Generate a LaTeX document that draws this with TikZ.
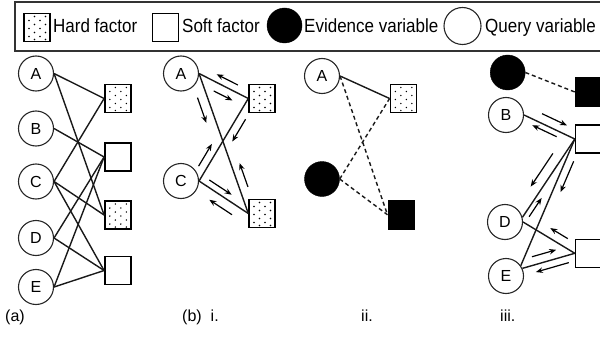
\documentclass[tikz,border=0pt]{standalone}
\usepackage{fontspec}
\setmainfont{Liberation Sans}
\usetikzlibrary{calc,arrows.meta}

% message arrow drawn beside the edge from #1 to #2,
% from fraction #3 to fraction #4 of the edge, shifted sideways by #5 pt
\newcommand\passmsg[5]{%
  \draw[msgflow] ($(#1)!#3!(#2)!#5pt!90:(#2)$) -- ($(#1)!#4!(#2)!#5pt!90:(#2)$);}
% legend captions are set slightly tall
\newcommand\tallcap[1]{\scalebox{1}[1.12]{#1}}

\tikzset{
  qvar/.style={circle, draw=black!85, line width=1.1pt, minimum size=35pt,
    inner sep=0pt, font=\fontsize{16}{18}\selectfont},
  evar/.style={circle, draw=black, fill=black, minimum size=35pt, inner sep=0pt},
  factor/.style={rectangle, draw=black, line width=1.4pt, minimum width=26pt,
    minimum height=28pt, inner sep=0pt},
  soft/.style={factor, fill=white},
  obs/.style={factor, fill=black},
  hard/.style={factor, path picture={
      \foreach \px/\py in {-8/-9,-8/-1,-8/7,-2.5/-12,-2.5/-5,-2.5/3,-2.5/11,
                           3/-9,3/-1,3/7,8.5/-12,8.5/-5,8.5/3,8.5/11}
        \fill[black] ($(path picture bounding box.center)+(\px pt,\py pt)$) circle (0.8pt);}},
  link/.style={line width=1.4pt, black!90},
  dlink/.style={link, dash pattern=on 4pt off 3pt},
  msgflow/.style={line width=1.2pt, black, -{Stealth[length=7pt,width=5.5pt]}},
  lbl/.style={anchor=base west, inner sep=0pt, font=\fontsize{16}{18}\selectfont},
  legtext/.style={anchor=base west, inner sep=0pt, font=\fontsize{17}{20}\selectfont},
  legframe/.style={draw=black!80, line width=1.4pt},
}

\begin{document}
\begin{tikzpicture}[x=1pt, y=-1pt]
\useasboundingbox (0,0) rectangle (600,337);

% legend
\draw[legframe] (15,2) rectangle (615,51);
\node[hard] (lh) at (37,27.5) {};
\node[legtext] (lht) at (53,33) {\tallcap{Hard factor}};
\node[soft] (ls) at (165.5,27.5) {};
\node[legtext] (lst) at (182,33) {\tallcap{Soft factor}};
\node[evar] (le) at (284.5,25.5) {};
\node[legtext] (let) at (304,33) {\tallcap{Evidence variable}};
\node[qvar, minimum size=37pt] (lq) at (462.5,26) {};
\node[legtext] (lqt) at (485,33) {\tallcap{Query variable}};

% (a) full factor graph
\node[qvar] (aA) at (36,73.5) {A};
\node[qvar] (aB) at (36,128.5) {B};
\node[qvar] (aC) at (36,181.5) {C};
\node[qvar] (aD) at (36,238) {D};
\node[qvar] (aE) at (36,287) {E};
\node[hard] (ah1) at (117.8,98.5) {};
\node[soft] (as1) at (117.8,157) {};
\node[hard] (ah2) at (117.8,215) {};
\node[soft] (as2) at (117.8,270.5) {};
\draw[link] (aA.east) -- (ah1.west);
\draw[link] (aA.east) -- (ah2.west);
\draw[link] (aB.east) -- (as1.west);
\draw[link] (aC.east) -- (ah1.west);
\draw[link] (aC.east) -- (ah2.west);
\draw[link] (aC.east) -- (as2.west);
\draw[link] (aD.east) -- (as1.west);
\draw[link] (aD.east) -- (as2.west);
\draw[link] (aE.east) -- (as1.west);
\draw[link] (aE.east) -- (as2.west);
\node[lbl] (la) at (5,321.5) {(a)};

% (b) i. hard factors only
\node[qvar] (bA) at (181,73.5) {A};
\node[qvar] (bC) at (181,181) {C};
\node[hard] (bh1) at (262,98.5) {};
\node[hard] (bh2) at (262,213.5) {};
\draw[link] (bA.east) -- (bh1.west);
\draw[link] (bA.east) -- (bh2.west);
\draw[link] (bC.east) -- (bh1.west);
\draw[link] (bC.east) -- (bh2.west);
\passmsg{bA.east}{bh1.west}{0.72}{0.29}{7.3}
\passmsg{bA.east}{bh1.west}{0.38}{0.76}{-8.9}
\passmsg{bA.east}{bh2.west}{0.15}{0.33}{-9.5}
\passmsg{bA.east}{bh2.west}{0.83}{0.66}{8.5}
\passmsg{bC.east}{bh1.west}{0.13}{0.40}{8}
\passmsg{bC.east}{bh1.west}{0.80}{0.53}{-8.3}
\passmsg{bC.east}{bh2.west}{0.135}{0.59}{6.5}
\passmsg{bC.east}{bh2.west}{0.78}{0.32}{-10}
\node[lbl] (lb) at (182,321.5) {(b)\hspace{9pt}i.};

% ii. evidence
\node[qvar] (cA) at (322,76) {A};
\node[evar] (cEv) at (322,179) {};
\node[hard] (ch) at (403.3,98.5) {};
\node[obs] (co) at (401.2,214.8) {};
\draw[link] (cA.east) -- (ch.west);
\draw[dlink] (cA.east) -- (co.west);
\draw[dlink] (cEv.east) -- (ch.west);
\draw[dlink] (cEv.east) -- (co.west);
\node[lbl] (lc) at (361,321.5) {ii.};

% iii. soft factors
\node[evar] (dEv) at (507.7,72.5) {};
\node[qvar] (dB) at (506,115) {B};
\node[qvar] (dD) at (505,222) {D};
\node[qvar] (dE) at (506,276) {E};
\node[obs] (do) at (588.5,92) {};
\node[soft] (ds1) at (588.5,139) {};
\node[soft] (ds2) at (588.5,253.3) {};
\draw[dlink] (dEv.east) -- (do.west);
\draw[link] (dB.east) -- (ds1.west);
\draw[link] (dD.15) -- (ds1.west);
\draw[link] (dE.35) -- (ds1.west);
\draw[link] (dD.east) -- (ds2.west);
\draw[link] (dE.25) -- (ds2.west);
\passmsg{dB.east}{ds1.west}{0.28}{0.77}{8.9}
\passmsg{dB.east}{ds1.west}{0.69}{0.21}{-5.7}
\passmsg{dD.15}{ds1.west}{0.744}{0.32}{10.2}
\passmsg{dD.15}{ds1.west}{0.045}{0.284}{-5.2}
\passmsg{dE.35}{ds1.west}{0.848}{0.604}{-7.7}
\passmsg{dD.east}{ds2.west}{0.775}{0.437}{8.9}
\passmsg{dE.25}{ds2.west}{0.228}{0.69}{8.5}
\passmsg{dE.25}{ds2.west}{0.847}{0.219}{-7.3}
\node[lbl] (ld) at (500,321.5) {iii.};
\end{tikzpicture}
\end{document}
